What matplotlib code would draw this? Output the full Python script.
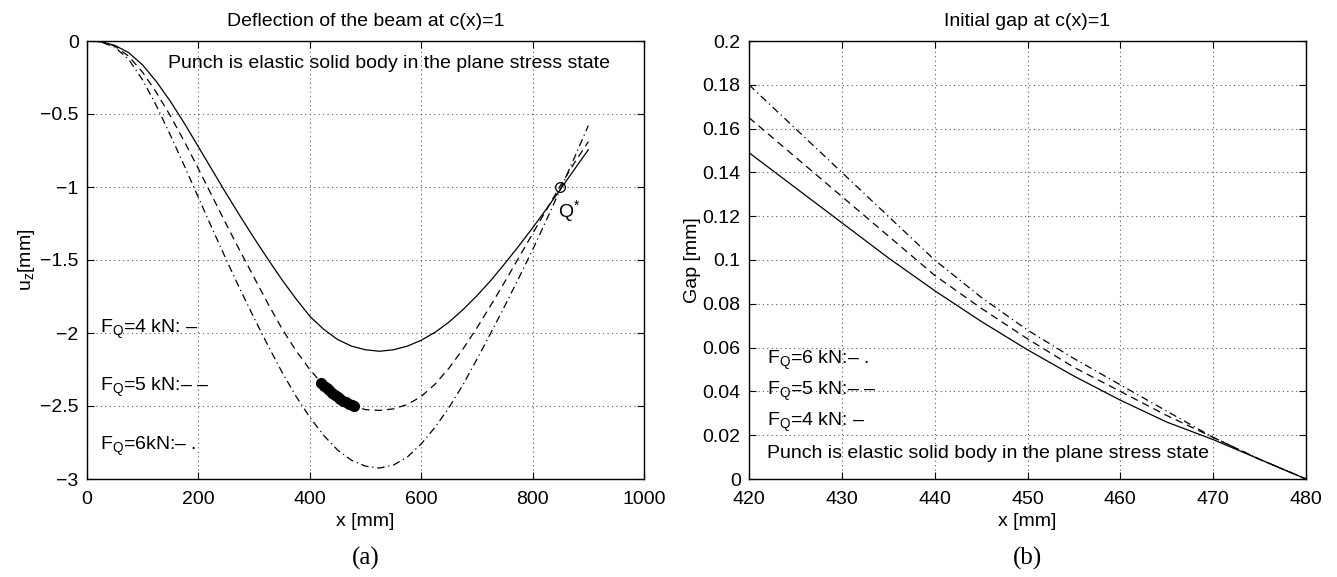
import matplotlib
matplotlib.use("Agg")
import matplotlib.pyplot as plt

plt.rcParams['font.family'] = ['Liberation Sans', 'DejaVu Sans']
plt.rcParams['mathtext.fontset'] = 'custom'
plt.rcParams['mathtext.rm'] = 'Liberation Sans'
plt.rcParams['mathtext.it'] = 'Liberation Sans:italic'
plt.rcParams['mathtext.bf'] = 'Liberation Sans:bold'

# ---------------- data: panel (a) deflection ----------------
x_a = [0, 25, 50, 75, 100, 125, 150, 175, 200, 225, 250, 275, 300, 325, 350,
       375, 400, 425, 450, 475, 500, 525, 550, 575, 600, 625, 650, 675, 700,
       725, 750, 775, 800, 825, 850, 875, 900]
u_4kN = [0, -0.005, -0.03, -0.08, -0.165, -0.28, -0.415, -0.565, -0.725, -0.885,
         -1.045, -1.20, -1.35, -1.495, -1.635, -1.765, -1.885, -1.975, -2.045,
         -2.09, -2.115, -2.125, -2.115, -2.09, -2.05, -1.995, -1.925, -1.84,
         -1.745, -1.64, -1.525, -1.405, -1.28, -1.15, -1.015, -0.88, -0.745]
u_5kN = [0, -0.005, -0.035, -0.105, -0.215, -0.355, -0.515, -0.69, -0.875,
         -1.065, -1.255, -1.44, -1.62, -1.80, -1.97, -2.12, -2.25, -2.36, -2.44,
         -2.495, -2.525, -2.53, -2.52, -2.49, -2.435, -2.35, -2.24, -2.11,
         -1.965, -1.81, -1.65, -1.485, -1.32, -1.155, -0.99, -0.835, -0.69]
u_6kN = [0, -0.007, -0.042, -0.127, -0.267, -0.447, -0.647, -0.857, -1.072,
         -1.287, -1.497, -1.702, -1.897, -2.087, -2.267, -2.432, -2.577, -2.702,
         -2.802, -2.872, -2.912, -2.925, -2.905, -2.85, -2.76, -2.645, -2.51,
         -2.355, -2.18, -2.0, -1.815, -1.625, -1.43, -1.225, -1.015, -0.80, -0.58]
contact_x = [420, 425, 430, 435, 440, 445, 450, 455, 460, 465, 470, 475, 480]
contact_u = [-2.34, -2.36, -2.375, -2.39, -2.41, -2.425, -2.44, -2.455, -2.465,
             -2.475, -2.485, -2.495, -2.50]
q_star = (850, -1.0)

# ---------------- data: panel (b) initial gap ----------------
x_b = [420, 425, 430, 435, 440, 445, 450, 455, 460, 465, 470, 475, 480]
gap_4kN = [0.149, 0.133, 0.117, 0.101, 0.086, 0.072, 0.059, 0.047, 0.036,
           0.026, 0.018, 0.009, 0.0]
gap_5kN = [0.165, 0.147, 0.129, 0.111, 0.093, 0.078, 0.064, 0.051, 0.040,
           0.029, 0.019, 0.009, 0.0]
gap_6kN = [0.180, 0.160, 0.140, 0.120, 0.100, 0.083, 0.068, 0.055, 0.043,
           0.031, 0.019, 0.009, 0.0]

a_xticks = [0, 200, 400, 600, 800, 1000]
a_yticks = [0, -0.5, -1, -1.5, -2, -2.5, -3]
a_yticklabels = ['0', '\u22120.5', '\u22121', '\u22121.5', '\u22122', '\u22122.5', '\u22123']
b_xticks = [420, 430, 440, 450, 460, 470, 480]
b_yticks = [0, 0.02, 0.04, 0.06, 0.08, 0.1, 0.12, 0.14, 0.16, 0.18, 0.2]
b_yticklabels = ['0', '0.02', '0.04', '0.06', '0.08', '0.1', '0.12', '0.14',
                 '0.16', '0.18', '0.2']

FS = 14
DASH = (0, (6, 4))
DASHDOT = (0, (6, 3, 1, 3))
LW = 0.9

fig = plt.figure(figsize=(13.37, 5.77), dpi=100)
axa = fig.add_axes([87 / 1337, 98 / 577, 557 / 1337, 438 / 577])
axb = fig.add_axes([749 / 1337, 98 / 577, 557 / 1337, 438 / 577])


def style(ax):
    ax.grid(True, color='0.35', linestyle=(0, (1, 3)), linewidth=0.8)
    ax.tick_params(direction='in', top=True, right=True, length=5, width=0.8,
                   labelsize=FS)
    ax.tick_params(axis='x', pad=9)
    ax.tick_params(axis='y', pad=6)
    for s in ax.spines.values():
        s.set_linewidth(1.0)
        s.set_color('black')


# panel (a)
axa.plot(x_a, u_4kN, color='black', lw=LW, linestyle='-')
axa.plot(x_a, u_5kN, color='black', lw=LW, linestyle=DASH)
axa.plot(x_a, u_6kN, color='black', lw=LW, linestyle=DASHDOT)
axa.plot(contact_x, contact_u, linestyle='none', marker='o', markersize=7,
         color='black', markerfacecolor='black')
axa.plot([q_star[0]], [q_star[1]], linestyle='none', marker='o', markersize=7,
         markerfacecolor='none', markeredgecolor='black', markeredgewidth=0.9)
axa.set_xlim(0, 1000)
axa.set_ylim(-3, 0)
axa.set_xticks(a_xticks)
axa.set_yticks(a_yticks)
axa.set_yticklabels(a_yticklabels)
style(axa)
axa.set_title('Deflection of the beam at c(x)=1', fontsize=FS, pad=11)
axa.set_xlabel('x [mm]', fontsize=FS, labelpad=3)
axa.set_ylabel(r'u$_\mathrm{z}$[mm]', fontsize=FS, labelpad=2)
axa.text(146, -0.155, 'Punch is elastic solid body in the plane stress state',
         fontsize=FS, ha='left', va='center')
axa.text(23, -2.0, 'F$_\\mathrm{Q}$=4 kN: \u2013', fontsize=FS,
         ha='left', va='baseline')
axa.text(23, -2.40, 'F$_\\mathrm{Q}$=5 kN:\u2013 \u2013', fontsize=FS,
         ha='left', va='baseline')
axa.text(23, -2.80, 'F$_\\mathrm{Q}$=6kN:\u2013 .', fontsize=FS,
         ha='left', va='baseline')
axa.text(846, -1.205, 'Q$^{*}$', fontsize=FS, ha='left', va='baseline')

# panel (b)
axb.plot(x_b, gap_4kN, color='black', lw=LW, linestyle='-')
axb.plot(x_b, gap_5kN, color='black', lw=LW, linestyle=DASH)
axb.plot(x_b, gap_6kN, color='black', lw=LW, linestyle=DASHDOT)
axb.set_xlim(420, 480)
axb.set_ylim(0, 0.2)
axb.set_xticks(b_xticks)
axb.set_yticks(b_yticks)
axb.set_yticklabels(b_yticklabels)
style(axb)
axb.set_title('Initial gap at c(x)=1', fontsize=FS, pad=11)
axb.set_xlabel('x [mm]', fontsize=FS, labelpad=3)
axb.set_ylabel('Gap [mm]', fontsize=FS, labelpad=1)
axb.text(421.97, 0.0527, 'F$_\\mathrm{Q}$=6 kN:\u2013 .', fontsize=FS,
         ha='left', va='baseline')
axb.text(421.97, 0.0383, 'F$_\\mathrm{Q}$=5 kN:\u2013 \u2013', fontsize=FS,
         ha='left', va='baseline')
axb.text(421.97, 0.0244, 'F$_\\mathrm{Q}$=4 kN: \u2013', fontsize=FS,
         ha='left', va='baseline')
axb.text(421.97, 0.0094, 'Punch is elastic solid body in the plane stress state',
         fontsize=FS, ha='left', va='baseline')

fig.text((87 + 644) / 2 / 1337, 1 - 558 / 577, '(a)', fontsize=18,
         family='Liberation Serif', ha='center', va='center')
fig.text((749 + 1306) / 2 / 1337, 1 - 558 / 577, '(b)', fontsize=18,
         family='Liberation Serif', ha='center', va='center')

fig.savefig('out.png', dpi=100)
